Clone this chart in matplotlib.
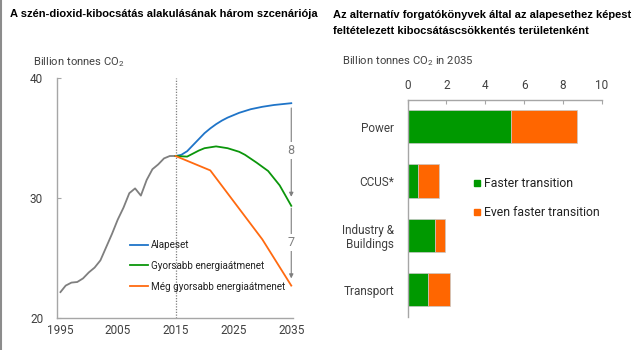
import matplotlib
matplotlib.use("Agg")
import matplotlib.pyplot as plt
from matplotlib.lines import Line2D

plt.rcParams['font.family'] = ['Roboto', 'DejaVu Sans']
plt.rcParams['mathtext.fontset'] = 'custom'
plt.rcParams['mathtext.rm'] = 'Roboto'
plt.rcParams['mathtext.it'] = 'Roboto'

# ---- data ----
hist_years = list(range(1995, 2016))
hist_vals = [22.1, 22.7, 22.95, 23.0, 23.3, 23.8, 24.2, 24.8, 25.9, 27.0, 28.2,
             29.2, 30.4, 30.8, 30.2, 31.5, 32.4, 32.8, 33.3, 33.5, 33.5]

base_years = [2015, 2016, 2017, 2018, 2019, 2020, 2021, 2022, 2023, 2024, 2025,
              2026, 2027, 2028, 2029, 2030, 2032, 2035]
base_vals = [33.5, 33.6, 33.9, 34.4, 34.9, 35.4, 35.8, 36.15, 36.45, 36.7, 36.9,
             37.1, 37.25, 37.4, 37.5, 37.6, 37.75, 37.9]

fast_years = [2015, 2017, 2019, 2020, 2022, 2024, 2026, 2027, 2029, 2031, 2033, 2035]
fast_vals = [33.5, 33.45, 33.95, 34.15, 34.3, 34.15, 33.85, 33.6, 32.95, 32.25, 31.05, 29.35]

faster_years = [2015, 2021, 2030, 2035]
faster_vals = [33.5, 32.3, 26.55, 22.7]

series_labels = ["Alapeset", "Gyorsabb energiaátmenet", "Még gyorsabb energiaátmenet"]
gap_labels = ["8", "7"]

x_ticks = [1995, 2005, 2015, 2025, 2035]
y_ticks = [20, 30, 40]

sectors = ["Power", "CCUS*", "Industry &\nBuildings", "Transport"]
faster_red = [5.35, 0.55, 1.4, 1.07]
even_faster_red = [3.4, 1.07, 0.52, 1.13]
bar_legend = ["Faster transition", "Even faster transition"]
bar_ticks = [0, 2, 4, 6, 8, 10]

# ---- style ----
C_BLUE = '#1f74c8'
C_GREEN = '#0b960b'
C_ORANGE = '#ff6a10'
C_GREY = '#7f7f7f'
C_BAR_G = '#009900'
C_BAR_O = '#ff6600'
AX_GREY = '#a6a6a6'
TXT = '#404040'

fig = plt.figure(figsize=(6.4, 3.5), dpi=100)
W, H = 640, 350

def fx(px):
    return px / W

def fy(py):
    return 1 - py / H

# ---- left chart ----
ax = fig.add_axes([fx(57), fy(318), fx(293) - fx(57), fy(78) - fy(318)])
ax.set_xlim(1994.5, 2035.3)
ax.set_ylim(20, 40)
ax.plot(hist_years, hist_vals, color=C_GREY, lw=1.3, solid_capstyle='butt')
l1, = ax.plot(base_years, base_vals, color=C_BLUE, lw=1.3)
l2, = ax.plot(fast_years, fast_vals, color=C_GREEN, lw=1.3)
l3, = ax.plot(faster_years, faster_vals, color=C_ORANGE, lw=1.3)
ax.axvline(2015, color=C_GREY, ls=(0, (1, 1.2)), lw=0.9, zorder=0)

for s in ['top', 'right']:
    ax.spines[s].set_visible(False)
for s in ['left', 'bottom']:
    ax.spines[s].set_color(AX_GREY)
    ax.spines[s].set_linewidth(1.0)
ax.set_xticks(x_ticks)
ax.set_yticks(y_ticks)
ax.tick_params(axis='y', direction='in', length=3, color=AX_GREY, pad=10,
               labelsize=8.5, labelcolor=TXT)
ax.tick_params(axis='x', length=0, pad=4, labelsize=8.5, labelcolor=TXT)

# gap arrows
arrow_kw = dict(arrowstyle='-|>', color=C_GREY, lw=0.8, mutation_scale=6,
                shrinkA=0, shrinkB=0)
ax.annotate('', xy=(2035, 30.1), xytext=(2035, base_vals[-1] - 0.4),
            arrowprops=arrow_kw)
ax.annotate('', xy=(2035, 23.3), xytext=(2035, fast_vals[-1] - 0.2),
            arrowprops=arrow_kw)
ax.text(2035, 33.95, gap_labels[0], ha='center', va='center', fontsize=9,
        color=C_GREY, bbox=dict(facecolor='white', edgecolor='none', pad=1.5))
ax.text(2035, 26.3, gap_labels[1], ha='center', va='center', fontsize=9,
        color=C_GREY, bbox=dict(facecolor='white', edgecolor='none', pad=1.5))

leg = ax.legend([l1, l2, l3], series_labels, loc='upper left',
                bbox_to_anchor=(fx(130), fy(240)), bbox_transform=fig.transFigure,
                frameon=False, fontsize=7.1, handlelength=1.85, handletextpad=0.3,
                labelspacing=1.1, borderpad=0, borderaxespad=0)
for t in leg.get_texts():
    t.set_color('#222222')

fig.text(fx(10), fy(14), "A szén-dioxid-kibocsátás alakulásának három szcenáriója",
         fontsize=8, fontweight='bold', family='Liberation Sans', va='center', ha='left')
fig.text(fx(33), fy(62), "Billion tonnes CO$_2$", fontsize=8.1, color=TXT,
         va='center', ha='left')

# ---- right chart ----
bx = fig.add_axes([fx(407.7), fy(317), fx(601.7) - fx(407.7), fy(100) - fy(317)])
ypos = list(range(len(sectors)))
bx.barh(ypos, faster_red, height=0.61, color=C_BAR_G, edgecolor='#c8c8c8', lw=0.5)
bx.barh(ypos, even_faster_red, left=faster_red, height=0.61, color=C_BAR_O,
        edgecolor='#c8c8c8', lw=0.5)
bx.set_xlim(0, 10)
bx.set_ylim(3.5, -0.49)
bx.set_yticks(ypos)
bx.set_yticklabels(sectors, fontsize=8.5, color=TXT, linespacing=1.1)
bx.set_xticks(bar_ticks)
bx.xaxis.tick_top()
bx.tick_params(axis='x', direction='in', length=3, color=AX_GREY, pad=6,
               labelsize=8.5, labelcolor=TXT)
bx.tick_params(axis='y', length=0, pad=10)
for s in ['bottom', 'right']:
    bx.spines[s].set_visible(False)
for s in ['top', 'left']:
    bx.spines[s].set_color(AX_GREY)
    bx.spines[s].set_linewidth(1.0)

h1 = Line2D([], [], marker='s', ls='none', color=C_BAR_G, markersize=4.5)
h2 = Line2D([], [], marker='s', ls='none', color=C_BAR_O, markersize=4.5)
leg2 = bx.legend([h1, h2], bar_legend, loc='upper left',
                 bbox_to_anchor=(fx(473), fy(177)), bbox_transform=fig.transFigure,
                 frameon=False, fontsize=8.8, handlelength=0.6, handletextpad=0.3,
                 labelspacing=1.35, borderpad=0, borderaxespad=0)
for t in leg2.get_texts():
    t.set_color('#222222')

fig.text(fx(333), fy(15.5), "Az alternatív forgatókönyvek által az alapesethez képest",
         fontsize=8, fontweight='bold', family='Liberation Sans', va='center', ha='left')
fig.text(fx(333), fy(31), "feltételezett kibocsátáscsökkentés területenként",
         fontsize=8, fontweight='bold', family='Liberation Sans', va='center', ha='left')
fig.text(fx(342), fy(61), "Billion tonnes CO$_2$ in 2035", fontsize=8.1, color=TXT,
         va='center', ha='left')

# left border line
fig.add_artist(Line2D([0.0015, 0.0015], [0, 1], transform=fig.transFigure,
                      color='#8c8c8c', lw=1.5))

fig.savefig("out.png", dpi=100)
